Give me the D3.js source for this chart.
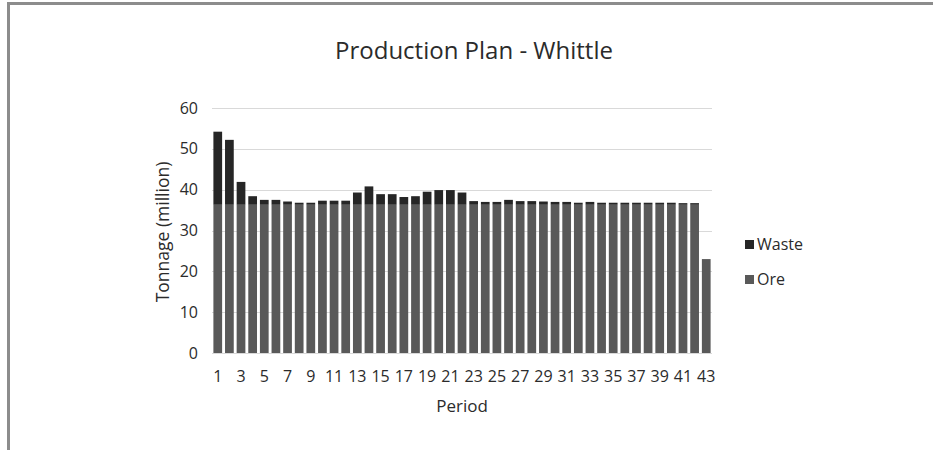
<!DOCTYPE html>
<html>
<head>
<meta charset="utf-8">
<script src="https://cdn.jsdelivr.net/npm/d3@7"></script>
<style>
  body { margin: 0; background: #fff; }
  text { font-family: "Open Sans", sans-serif; fill: #2b2b2b; }
</style>
</head>
<body>
<div id="chart"></div>
<script>
var svgWidth = 933;
var svgHeight = 450;

// periods 1..43
var periods = d3.range(1, 44);

var ore = [36.3, 36.3, 36.3, 36.3, 36.3, 36.3, 36.3, 36.3, 36.3, 36.3,
  36.3, 36.3, 36.3, 36.3, 36.3, 36.3, 36.3, 36.3, 36.3, 36.3,
  36.3, 36.3, 36.3, 36.3, 36.3, 36.3, 36.3, 36.3, 36.3, 36.3,
  36.3, 36.3, 36.3, 36.3, 36.3, 36.3, 36.3, 36.3, 36.3, 36.3,
  36.3, 36.3, 23.0];

var waste = [17.9, 15.9, 5.6, 2.1, 1.2, 1.2, 0.8, 0.5, 0.5, 1.0,
  1.0, 1.0, 3.0, 4.5, 2.6, 2.6, 1.9, 2.1, 3.2, 3.6,
  3.6, 3.0, 0.9, 0.7, 0.7, 1.2, 0.9, 0.9, 0.8, 0.7,
  0.7, 0.5, 0.7, 0.5, 0.5, 0.5, 0.5, 0.5, 0.5, 0.5,
  0.4, 0.4, 0.0];

var yTicks = [0, 10, 20, 30, 40, 50, 60];
var seriesNames = ["Waste", "Ore"];
var colors = { Ore: "#595959", Waste: "#262626" };

var margin = { top: 108, left: 212, right: 221, bottom: 97 };
var width = svgWidth - margin.left - margin.right;
var height = svgHeight - margin.top - margin.bottom;

var svg = d3.select("#chart")
  .append("svg")
  .attr("width", svgWidth)
  .attr("height", svgHeight);

// outer frame (top and left edges visible)
svg.append("path")
  .attr("d", "M8.5,450 V3.5 H933")
  .attr("fill", "none")
  .attr("stroke", "#8c8c8c")
  .attr("stroke-width", 3);

var chartGroup = svg.append("g")
  .attr("transform", `translate(${margin.left}, ${margin.top})`);

var xScale = d3.scaleBand()
  .domain(periods)
  .range([0, width])
  .paddingInner(0.25)
  .paddingOuter(0.12);

var yScale = d3.scaleLinear()
  .domain([0, 60])
  .range([height, 0]);

// gridlines
chartGroup.selectAll(".grid")
  .data(yTicks)
  .enter()
  .append("line")
  .attr("x1", 0)
  .attr("x2", width)
  .attr("y1", d => Math.round(yScale(d)) + 0.5)
  .attr("y2", d => Math.round(yScale(d)) + 0.5)
  .attr("stroke", "#d9d9d9")
  .attr("stroke-width", 1);

var rows = periods.map((p, i) => ({ period: p, Ore: ore[i], Waste: waste[i] }));
var stacked = d3.stack().keys(["Ore", "Waste"])(rows);

chartGroup.selectAll(".series")
  .data(stacked)
  .enter()
  .append("g")
  .attr("fill", d => colors[d.key])
  .selectAll("rect")
  .data(d => d)
  .enter()
  .append("rect")
  .attr("x", d => xScale(d.data.period))
  .attr("width", xScale.bandwidth())
  .attr("y", d => yScale(d[1]))
  .attr("height", d => yScale(d[0]) - yScale(d[1]));

// y axis labels
var leftAxis = d3.axisLeft(yScale).tickValues(yTicks).tickSize(0).tickPadding(14);
var yAxisG = chartGroup.append("g").call(leftAxis);
yAxisG.select(".domain").remove();
yAxisG.selectAll("text")
  .style("font-size", "16px")
  .attr("fill", "#2b2b2b");

// x axis labels, odd periods only
var bottomAxis = d3.axisBottom(xScale)
  .tickValues(periods.filter(p => p % 2 === 1))
  .tickSize(0)
  .tickPadding(18);
var xAxisG = chartGroup.append("g")
  .attr("transform", `translate(0, ${height})`)
  .call(bottomAxis);
xAxisG.select(".domain").remove();
xAxisG.selectAll("text")
  .style("font-size", "16px")
  .attr("fill", "#2b2b2b");

// title
svg.append("text")
  .attr("x", 474)
  .attr("y", 59)
  .attr("text-anchor", "middle")
  .style("font-size", "24px")
  .text("Production Plan - Whittle");

// axis titles
svg.append("text")
  .attr("transform", "rotate(-90)")
  .attr("x", -232)
  .attr("y", 169)
  .attr("text-anchor", "middle")
  .style("font-size", "17.5px")
  .text("Tonnage (million)");

svg.append("text")
  .attr("x", 462)
  .attr("y", 412)
  .attr("text-anchor", "middle")
  .style("font-size", "17px")
  .text("Period");

// legend
var legend = svg.append("g")
  .attr("transform", "translate(745, 240)");

legend.selectAll("rect")
  .data(seriesNames)
  .enter()
  .append("rect")
  .attr("x", 0)
  .attr("y", (d, i) => i * 35)
  .attr("width", 9)
  .attr("height", 9)
  .attr("fill", d => colors[d]);

legend.selectAll("text")
  .data(seriesNames)
  .enter()
  .append("text")
  .attr("x", 12)
  .attr("y", (d, i) => i * 35 + 10)
  .style("font-size", "16px")
  .text(d => d);
</script>
</body>
</html>
